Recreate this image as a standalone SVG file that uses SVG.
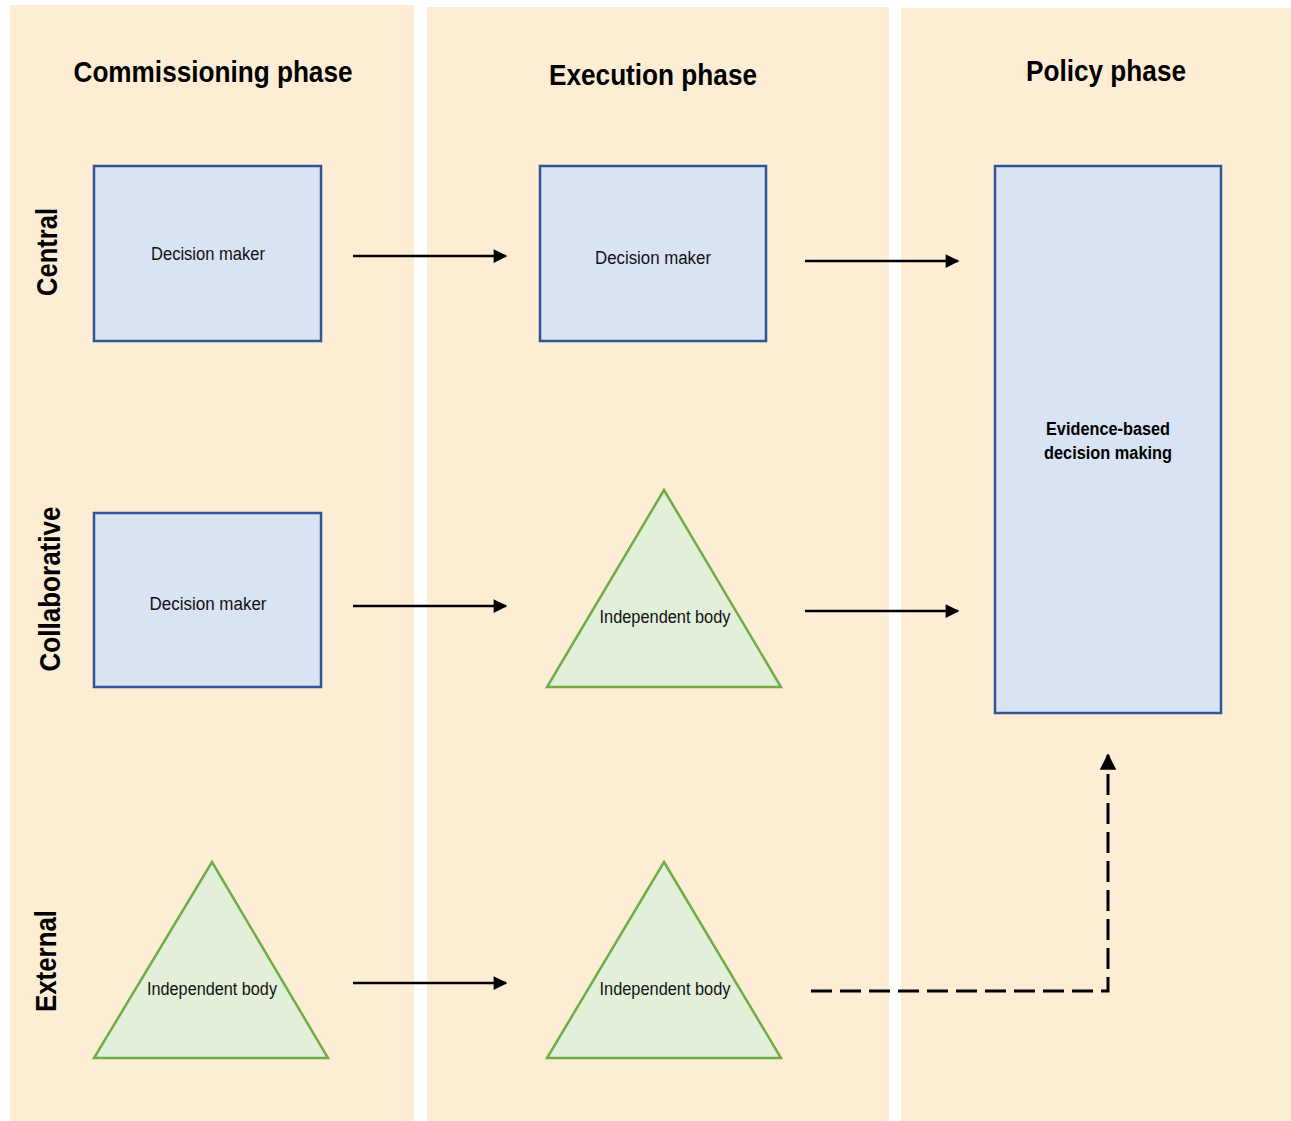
<svg xmlns="http://www.w3.org/2000/svg" width="1291" height="1121" viewBox="0 0 1291 1121">
<defs>
<style>
.panel{fill:#FDEDD5}
.box{fill:#DAE3F3;stroke:#2F5597;stroke-width:2.5}
.tri{fill:#E2EFD9;stroke:#70AD47;stroke-width:2.5}
.title{font-family:"Liberation Sans",Arial,sans-serif;font-weight:bold;font-size:30px;fill:#000;text-anchor:middle}
.row{font-family:"Liberation Sans",Arial,sans-serif;font-weight:bold;font-size:29px;fill:#000;text-anchor:middle}
.lbl{font-family:"Liberation Sans",Arial,sans-serif;font-size:18px;fill:#111;text-anchor:middle}
.lblb{font-family:"Liberation Sans",Arial,sans-serif;font-weight:bold;font-size:18px;fill:#000;text-anchor:middle}
.arr{fill:none;stroke:#000;stroke-width:2.5;marker-end:url(#ah)}
.dash{fill:none;stroke:#000;stroke-width:3;stroke-dasharray:21 8;marker-end:url(#ah)}
</style>
<marker id="ah" viewBox="0 0 10 10" refX="9" refY="5" markerWidth="6" markerHeight="5.5" markerUnits="strokeWidth" orient="auto">
<path d="M0,0 L10,5 L0,10 z" fill="#000"/>
</marker>
</defs>
<rect width="1291" height="1121" fill="#fff"/>
<g id="panels">
<rect class="panel" x="10" y="5" width="404" height="1116"/>
<rect class="panel" x="427" y="7" width="462" height="1114"/>
<rect class="panel" x="901" y="8" width="390" height="1113"/>
</g>
<g id="titles">
<text class="title" x="213" y="82" textLength="279" lengthAdjust="spacingAndGlyphs">Commissioning phase</text>
<text class="title" x="653" y="85" textLength="208" lengthAdjust="spacingAndGlyphs">Execution phase</text>
<text class="title" x="1106" y="81" textLength="160" lengthAdjust="spacingAndGlyphs">Policy phase</text>
</g>
<g id="rowlabels">
<text class="row" transform="translate(57,252) rotate(-90)" textLength="88" lengthAdjust="spacingAndGlyphs">Central</text>
<text class="row" transform="translate(60,589) rotate(-90)" textLength="165" lengthAdjust="spacingAndGlyphs">Collaborative</text>
<text class="row" transform="translate(56,961) rotate(-90)" textLength="102" lengthAdjust="spacingAndGlyphs">External</text>
</g>
<g id="node-central-commission">
<rect class="box" x="94" y="166" width="227" height="175"/>
<text class="lbl" x="208" y="260" textLength="114" lengthAdjust="spacingAndGlyphs">Decision maker</text>
</g>
<g id="node-central-execution">
<rect class="box" x="540" y="166" width="226" height="175"/>
<text class="lbl" x="653" y="264" textLength="116" lengthAdjust="spacingAndGlyphs">Decision  maker</text>
</g>
<g id="node-collab-commission">
<rect class="box" x="94" y="513" width="227" height="174"/>
<text class="lbl" x="208" y="610" textLength="117" lengthAdjust="spacingAndGlyphs">Decision  maker</text>
</g>
<g id="node-policy">
<rect class="box" x="995" y="166" width="226" height="547"/>
<text class="lblb" x="1108" y="435" textLength="124" lengthAdjust="spacingAndGlyphs">Evidence-based</text>
<text class="lblb" x="1108" y="459" textLength="128" lengthAdjust="spacingAndGlyphs">decision making</text>
</g>
<g id="node-collab-execution">
<polygon class="tri" points="664,490 781,687 547,687"/>
<text class="lbl" x="665" y="623" textLength="131" lengthAdjust="spacingAndGlyphs">Independent body</text>
</g>
<g id="node-external-commission">
<polygon class="tri" points="212,862 328,1058 94,1058"/>
<text class="lbl" x="212" y="995" textLength="130" lengthAdjust="spacingAndGlyphs">Independent body</text>
</g>
<g id="node-external-execution">
<polygon class="tri" points="664,862 781,1058 547,1058"/>
<text class="lbl" x="665" y="995" textLength="131" lengthAdjust="spacingAndGlyphs">Independent body</text>
</g>
<g id="connectors">
<path class="arr" d="M353,256 H506"/>
<path class="arr" d="M805,261 H958"/>
<path class="arr" d="M353,606 H506"/>
<path class="arr" d="M805,611 H958"/>
<path class="arr" d="M353,983 H506"/>
<path class="dash" d="M811,991 H1108 V755"/>
</g>
</svg>
